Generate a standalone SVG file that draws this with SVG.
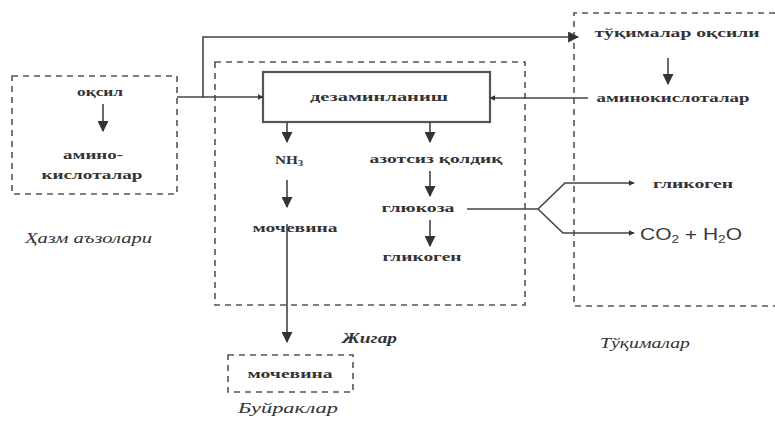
<svg xmlns="http://www.w3.org/2000/svg" width="775" height="430" viewBox="0 0 775 430">
<defs>
<style>
.t{font-family:"Liberation Serif","DejaVu Serif",serif;font-size:12px;fill:#333;font-weight:bold;}
.lab{font-family:"Liberation Serif","DejaVu Serif",serif;font-style:italic;font-size:15px;fill:#333;}
.f{font-family:"Liberation Sans","DejaVu Sans",sans-serif;font-size:17px;fill:#3a3a3a;}
.dash{fill:none;stroke:#555;stroke-width:1.6;stroke-dasharray:6 5;}
.ln{fill:none;stroke:#444;stroke-width:1.6;}
.box{fill:#fff;stroke:#555;stroke-width:2.2;}
</style>
<marker id="ah" viewBox="0 0 10 10" refX="9" refY="5" markerWidth="6" markerHeight="6" orient="auto" markerUnits="userSpaceOnUse">
<path d="M0,0 L10,5 L0,10 z" fill="#333"/>
</marker>
<marker id="big" viewBox="0 0 10 10" refX="9" refY="5" markerWidth="11" markerHeight="11" orient="auto" markerUnits="userSpaceOnUse">
<path d="M0,0 L10,5 L0,10 z" fill="#333"/>
</marker>
</defs>
<rect width="775" height="430" fill="#fff"/>

<g id="organs">
<rect class="dash" x="12" y="76" width="165" height="118"/>
<text class="t" x="100" y="96" text-anchor="middle" textLength="46" lengthAdjust="spacingAndGlyphs">оқсил</text>
<text class="t" x="93" y="159" text-anchor="middle" textLength="60" lengthAdjust="spacingAndGlyphs">амино-</text>
<text class="t" x="92" y="179" text-anchor="middle" textLength="101" lengthAdjust="spacingAndGlyphs">кислоталар</text>
<text class="lab" x="25" y="243" textLength="127" lengthAdjust="spacingAndGlyphs">Ҳазм аъзолари</text>
</g>

<g id="liver">
<rect class="dash" x="215" y="62" width="310" height="243"/>
<text class="lab" x="342" y="343" font-weight="bold" textLength="55" lengthAdjust="spacingAndGlyphs">Жигар</text>
</g>

<g id="deamination">
<rect class="box" x="263" y="72" width="227" height="50"/>
<text class="t" x="379" y="101" text-anchor="middle" textLength="138" lengthAdjust="spacingAndGlyphs">дезаминланиш</text>
</g>

<g id="nh3"><text class="t" x="289" y="164" text-anchor="middle" textLength="28" lengthAdjust="spacingAndGlyphs">NH<tspan font-size="8" dy="2">3</tspan></text></g>
<g id="urea-liver"><text class="t" x="295" y="232" text-anchor="middle" textLength="85" lengthAdjust="spacingAndGlyphs">мочевина</text></g>
<g id="nonnitrogen"><text class="t" x="436" y="163" text-anchor="middle" textLength="133" lengthAdjust="spacingAndGlyphs">азотсиз қолдиқ</text></g>
<g id="glucose"><text class="t" x="418" y="212" text-anchor="middle" textLength="73" lengthAdjust="spacingAndGlyphs">глюкоза</text></g>
<g id="glycogen-liver"><text class="t" x="422" y="261" text-anchor="middle" textLength="79" lengthAdjust="spacingAndGlyphs">гликоген</text></g>

<g id="kidneys">
<rect class="dash" x="228" y="355" width="125" height="37"/>
<text class="t" x="290" y="378" text-anchor="middle" textLength="85" lengthAdjust="spacingAndGlyphs">мочевина</text>
<text class="lab" x="238" y="413" font-size="17" textLength="100" lengthAdjust="spacingAndGlyphs">Буйраклар</text>
</g>

<g id="tissues">
<path class="dash" d="M775,13 H574 V306 H775"/>
<text class="t" x="677" y="37" text-anchor="middle" textLength="165" lengthAdjust="spacingAndGlyphs">тўқималар оқсили</text>
<text class="t" x="673" y="102" text-anchor="middle" textLength="153" lengthAdjust="spacingAndGlyphs">аминокислоталар</text>
<text class="t" x="693" y="188" text-anchor="middle" textLength="80" lengthAdjust="spacingAndGlyphs">гликоген</text>
<text class="f" x="640" y="240" textLength="102" lengthAdjust="spacingAndGlyphs">CO<tspan font-size="11" dy="3">2</tspan><tspan dy="-3"> + H</tspan><tspan font-size="11" dy="3">2</tspan><tspan dy="-3">O</tspan></text>
<text class="lab" x="600" y="348" textLength="90" lengthAdjust="spacingAndGlyphs">Тўқималар</text>
</g>

<g id="connectors">
<line class="ln" x1="103" y1="104" x2="103" y2="131" marker-end="url(#big)"/>
<polyline class="ln" points="177,97 263,97" marker-end="url(#ah)"/>
<polyline class="ln" points="203,97 203,37 578,37" marker-end="url(#big)"/>
<polyline class="ln" points="588,98 490,98" marker-end="url(#ah)"/>
<line class="ln" x1="668" y1="58" x2="668" y2="84" marker-end="url(#big)"/>
<line class="ln" x1="287" y1="122" x2="287" y2="142" marker-end="url(#big)"/>
<line class="ln" x1="287" y1="180" x2="287" y2="207" marker-end="url(#big)"/>
<line class="ln" x1="287" y1="224" x2="287" y2="342" marker-end="url(#big)"/>
<line class="ln" x1="430" y1="122" x2="430" y2="142" marker-end="url(#big)"/>
<line class="ln" x1="430" y1="171" x2="430" y2="196" marker-end="url(#big)"/>
<line class="ln" x1="430" y1="220" x2="430" y2="246" marker-end="url(#big)"/>
<polyline class="ln" points="467,209 538,209 565,183 634,183" marker-end="url(#ah)"/>
<polyline class="ln" points="538,209 563,233 634,233" marker-end="url(#ah)"/>
</g>
</svg>
